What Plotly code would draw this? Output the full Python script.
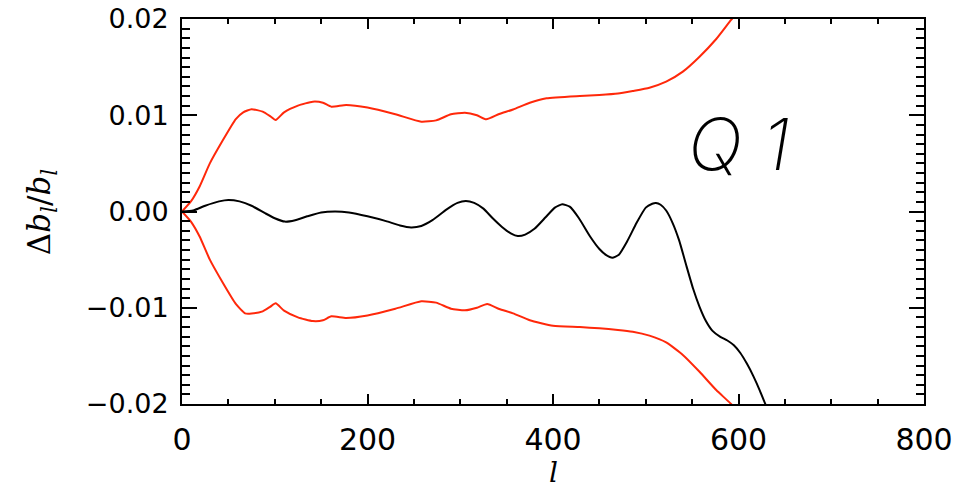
import plotly.graph_objects as go

# ---- data ----
black_l = [0, 12, 25, 40, 50, 62, 75, 90, 100, 111, 122, 135, 150, 165, 180, 200, 220, 235, 247, 258,
           270, 285, 297, 306, 315, 325, 335, 345, 355, 362, 370, 380, 392, 402, 410, 418, 428, 440,
           450, 457, 464, 471, 480, 490, 500, 507, 511, 516, 522, 529, 536, 544, 551, 558, 565, 572,
           580, 588, 595, 602, 609, 616, 623, 631]
black_y = [0.0, 0.0001, 0.0006, 0.00105, 0.0012, 0.00105, 0.0006, -0.0002, -0.0007, -0.00105, -0.0009,
           -0.0005, -0.0001, 0.0, -0.0001, -0.0005, -0.0010, -0.00145, -0.00165, -0.0015,
           -0.0009, 0.0002, 0.0009, 0.0011, 0.0009, 0.0003, -0.0007, -0.0016, -0.0023, -0.00255,
           -0.0024, -0.0018, -0.0006, 0.0004, 0.00075, 0.0005, -0.0007, -0.0026,
           -0.0039, -0.0045, -0.0048, -0.0045, -0.0031, -0.0012, 0.0004, 0.0008, 0.00088, 0.0007,
           0.0001, -0.0012, -0.0030, -0.0057, -0.0080, -0.0099, -0.0114, -0.0124,
           -0.0130, -0.0134, -0.0139, -0.0147, -0.0158, -0.0171, -0.0186, -0.0205]

upper_l = [0, 10, 19, 30, 44, 58, 66, 75, 87, 95, 101, 110, 125, 141, 152, 161, 177, 200, 230, 258,
           274, 290, 305, 318, 328, 342, 357, 375, 393, 429, 450, 470, 486, 504, 522, 540, 558, 576,
           592, 600]
upper_y = [0.0, 0.0011, 0.0026, 0.0050, 0.0074, 0.0096, 0.0103, 0.01063, 0.01037, 0.0099, 0.0095,
           0.0103, 0.0110, 0.01141, 0.0113, 0.01089, 0.01106, 0.0108, 0.0101, 0.00933,
           0.00947, 0.0101, 0.01027, 0.0100, 0.00958, 0.01013, 0.0106, 0.0113, 0.01176, 0.0120,
           0.0121, 0.01225, 0.01252, 0.01286, 0.01349, 0.01453, 0.01608, 0.01792, 0.0199, 0.0208]

lower_l = [0, 10, 19, 30, 44, 58, 68, 75, 87, 95, 101, 110, 125, 141, 152, 161, 177, 200, 230, 258,
           274, 290, 305, 318, 329, 342, 357, 375, 400, 429, 450, 470, 486, 504, 522, 540, 558, 576,
           592, 600]
lower_y = [0.0, -0.0011, -0.0026, -0.0050, -0.0074, -0.0096, -0.01058, -0.0106, -0.01037, -0.0099,
           -0.00954, -0.0103, -0.0110, -0.01138, -0.0113, -0.01089, -0.01106, -0.0108, -0.0101,
           -0.00933, -0.00947, -0.0101, -0.01027, -0.0100, -0.00961, -0.01013, -0.01058, -0.0113,
           -0.01186, -0.0120, -0.01214, -0.0123, -0.01249, -0.0129, -0.0136, -0.0149, -0.01665,
           -0.01855, -0.0200, -0.0209]

x_tickvals = [0, 200, 400, 600, 800]
y_tickvals = [-0.02, -0.01, 0.0, 0.01, 0.02]

RED = "rgb(255,40,10)"

fig = go.Figure()
for xs, ys, col in [(upper_l, upper_y, RED), (lower_l, lower_y, RED), (black_l, black_y, "black")]:
    fig.add_trace(go.Scatter(x=xs, y=ys, mode="lines",
                             line=dict(color=col, width=2, shape="spline", smoothing=0.5),
                             showlegend=False))

fig.update_layout(
    template="none",
    width=956, height=491,
    margin=dict(l=182, r=32, t=19, b=87, pad=0),
    paper_bgcolor="white", plot_bgcolor="white",
    xaxis=dict(range=[x_tickvals[0], x_tickvals[-1]], tickmode="linear",
               tick0=x_tickvals[0], dtick=x_tickvals[1] - x_tickvals[0],
               ticks="inside", ticklen=10, tickwidth=2, tickcolor="black",
               minor=dict(dtick=50, ticks="inside", ticklen=5, tickwidth=2,
                          tickcolor="black", showgrid=False),
               showline=True, linecolor="black", linewidth=2, mirror="ticks",
               showgrid=False, zeroline=False,
               tickfont=dict(family="DejaVu Sans", size=30, color="black"),
               ticklabelstandoff=8, ticklabeloverflow="allow", automargin=False),
    yaxis=dict(range=[y_tickvals[0], y_tickvals[-1]], tickmode="linear",
               tick0=y_tickvals[0], dtick=y_tickvals[1] - y_tickvals[0], tickformat=".2f",
               ticks="inside", ticklen=15, tickwidth=2, tickcolor="black",
               minor=dict(dtick=0.001, ticks="inside", ticklen=8, tickwidth=2,
                          tickcolor="black", showgrid=False),
               showline=True, linecolor="black", linewidth=2, mirror="ticks",
               showgrid=False, zeroline=False,
               tickfont=dict(family="DejaVu Sans", size=27, color="black"),
               ticklabelstandoff=6, ticklabeloverflow="allow", automargin=False),
    annotations=[
        dict(text="\u0394<i>b</i><sub><i>l</i></sub>/<i>b</i><sub><i>l</i></sub>",
             xref="paper", yref="paper", x=-0.189, y=0.5, textangle=-90,
             showarrow=False, font=dict(family="DejaVu Serif", size=31, color="black"),
             xanchor="center", yanchor="middle"),
        dict(text="<i>l</i>", xref="paper", yref="paper", x=0.501, y=-0.178,
             showarrow=False, font=dict(family="DejaVu Serif", size=28, color="black"),
             xanchor="center", yanchor="middle"),
        dict(text="Q 1", xref="x", yref="y", x=600, y=0.0071,
             showarrow=False,
             font=dict(family="Inter", size=72, color="black", style="italic", weight=200),
             xanchor="center", yanchor="middle"),
    ],
)

fig.write_html("out.html", config={"displayModeBar": False},
               post_script="document.body.style.margin='0px';")
